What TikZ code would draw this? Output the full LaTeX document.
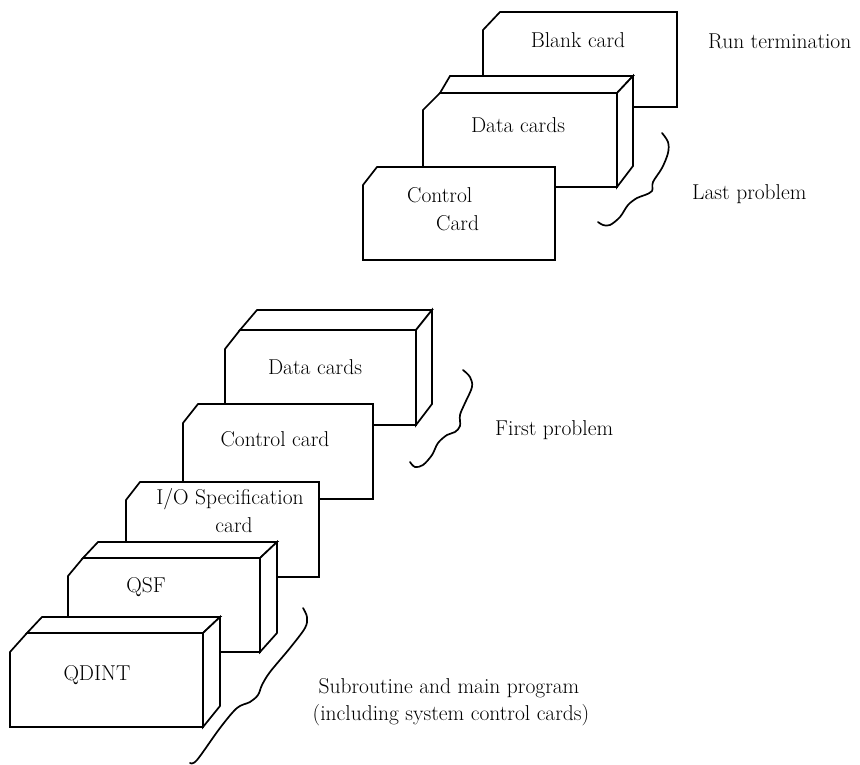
\documentclass[tikz,border=0pt]{standalone}
\begin{document}
\begin{tikzpicture}[x=1pt,y=-1pt,
  card/.style={draw=black, fill=white, line width=1.7pt},
  lbl/.style={font=\fontsize{21.5}{27}\selectfont, inner sep=0pt, anchor=base},
  lblw/.style={lbl, anchor=base west},
  bracecurve/.style={draw=black, line width=1.7pt, line cap=round, line join=round}]
\useasboundingbox (0,0) rectangle (860,765);

% ---------- Last problem group ----------
% Blank card
\path[card] (483,30) -- (500,12) -- (677,12) -- (677,107) -- (483,107) -- cycle;
% Data cards box
\path[card] (440,93) -- (450,76) -- (633,76) -- (617,93) -- cycle;
\path[card] (617,93) -- (633,76) -- (633,166) -- (617,187) -- cycle;
\path[card] (423,110) -- (440,93) -- (617,93) -- (617,187) -- (423,187) -- cycle;
% Control card
\path[card] (363,185) -- (377,167) -- (555,167) -- (555,260) -- (363,260) -- cycle;

\node[lbl] (blank) at (578,48) {Blank card};
\node[lbl] (data1) at (518,133) {Data cards};
\node[lblw] (ctl1a) at (407,203) {Control};
\node[lblw] (ctl1b) at (436,230) {Card};
\node[lblw] (runterm) at (708,49) {Run termination};
\node[lblw] (lastp) at (692,200) {Last problem};

\draw[bracecurve] plot[smooth, tension=0.55] coordinates {(662,133) (668,142) (668,153) (662,168) (653,182) (652,191) (645,195) (637,198) (628,205) (620,217) (610,225) (603,225) (598,222)};

% ---------- First problem group ----------
% Data cards box
\path[card] (240,330) -- (257,310) -- (432,310) -- (416,330) -- cycle;
\path[card] (416,330) -- (432,310) -- (432,404) -- (416,425) -- cycle;
\path[card] (225,349) -- (240,330) -- (416,330) -- (416,425) -- (225,425) -- cycle;
% Control card
\path[card] (183,423) -- (198,404) -- (373,404) -- (373,499) -- (183,499) -- cycle;

\node[lbl] (data2) at (315,374) {Data cards};
\node[lbl] (ctl2) at (275,446) {Control card};
\node[lblw] (firstp) at (495,435) {First problem};

\draw[bracecurve] plot[smooth, tension=0.55] coordinates {(463,370) (470,377) (472,387) (465,403) (460,415) (460,426) (455,432) (447,435) (438,443) (432,455) (423,465) (415,467) (410,462)};

% ---------- Program group ----------
% I/O Specification card
\path[card] (126,500) -- (140,482) -- (319,482) -- (319,577) -- (126,577) -- cycle;
% QSF box
\path[card] (83,558) -- (98,542) -- (277,542) -- (260,558) -- cycle;
\path[card] (260,558) -- (277,542) -- (277,633) -- (260,652) -- cycle;
\path[card] (68,576) -- (83,558) -- (260,558) -- (260,652) -- (68,652) -- cycle;
% QDINT box
\path[card] (27,633) -- (42,617) -- (220,617) -- (203,633) -- cycle;
\path[card] (203,633) -- (220,617) -- (220,706) -- (203,727) -- cycle;
\path[card] (10,652) -- (27,633) -- (203,633) -- (203,727) -- (10,727) -- cycle;

\node[lbl] (iospec) at (230,504) {I/O Specification};
\node[lbl] (iocard) at (234,532) {card};
\node[lbl] (qsf) at (146,592) {QSF};
\node[lbl] (qdint) at (97,680) {QDINT};
\node[lbl] (sub1) at (449,693) {Subroutine and main program};
\node[lbl] (sub2) at (451,720) {(including system control cards)};

\draw[bracecurve] plot[smooth, tension=0.55] coordinates {(303,608) (307,617) (305,628) (290,648) (270,672) (262,685) (258,695) (250,702) (237,708) (220,728) (197,760) (190,763)};
\end{tikzpicture}
\end{document}
